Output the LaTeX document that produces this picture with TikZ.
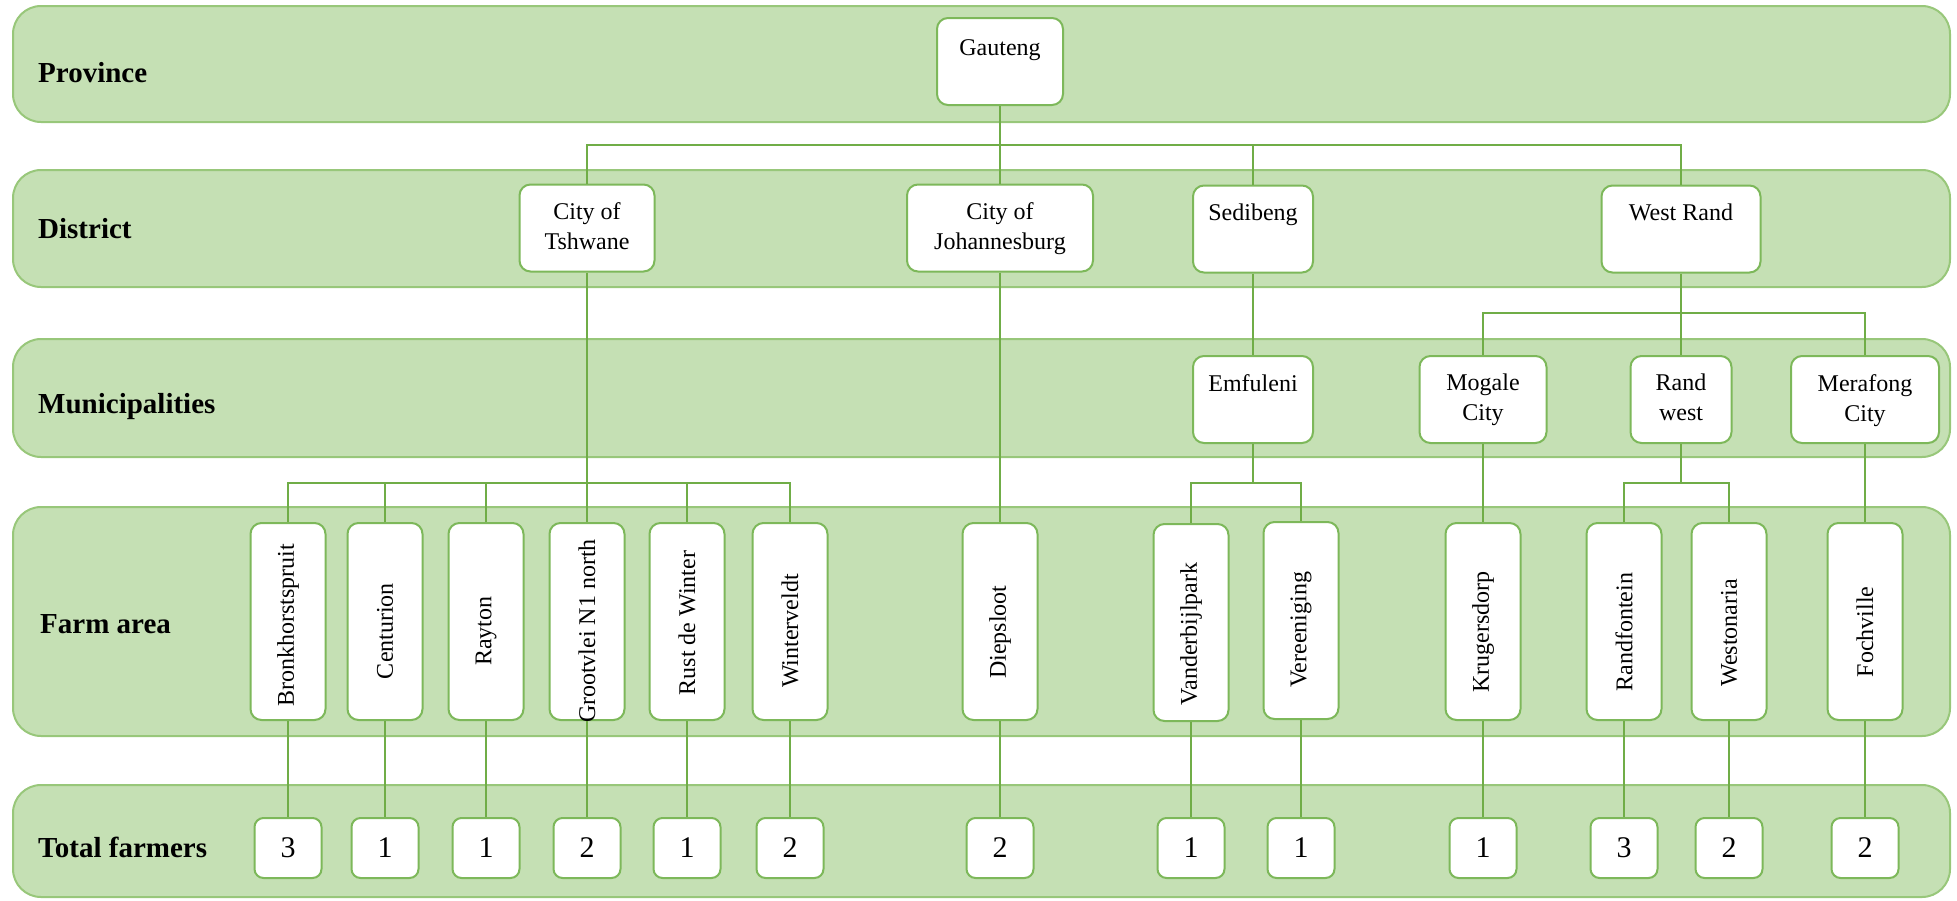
\documentclass[tikz,border=0pt]{standalone}
\usepackage{fontspec}
\setmainfont{Liberation Serif}
\definecolor{bandfill}{HTML}{C5E0B4}
\definecolor{bandborder}{HTML}{98C77A}
\definecolor{boxborder}{HTML}{7DB85A}
\definecolor{linegreen}{HTML}{70AD47}
\tikzset{
  band/.style={draw=bandborder, fill=bandfill, line width=2pt, rounded corners=28pt},
  box/.style={draw=boxborder, fill=white, line width=2pt, rounded corners=11pt, inner sep=0pt},
  topbox/.style={box, minimum height=87pt},
  farmbox/.style={box, minimum width=75pt, minimum height=197pt},
  numbox/.style={box, minimum width=67pt, minimum height=60pt, rounded corners=9pt, font=\fontsize{30}{32}\selectfont},
  lbl/.style={anchor=north, yshift=-19pt, align=center, inner sep=0pt, font=\fontsize{24}{30}\selectfont},
  farmtxt/.style={rotate=90, inner sep=0pt, font=\fontsize{24}{28}\selectfont},
  rowlbl/.style={anchor=base west, inner sep=0pt, font=\fontsize{29}{32}\selectfont\bfseries},
  conn/.style={draw=linegreen, line width=2.8pt}
}
\begin{document}
\begin{tikzpicture}[x=1pt, y=-1pt]
\useasboundingbox (0,0) rectangle (1957,900);
% bands
\draw[band] (13,6) rectangle (1950,122);
\draw[band] (13,170) rectangle (1950,287);
\draw[band] (13,339) rectangle (1950,457);
\draw[band] (13,507) rectangle (1950,736);
\draw[band] (13,785) rectangle (1950,897);
% row labels
\node[rowlbl] (lprov) at (38,82) {Province};
\node[rowlbl] (ldist) at (38,238) {District};
\node[rowlbl] (lmun) at (38,413) {Municipalities};
\node[rowlbl] (lfarm) at (40,633) {Farm area};
\node[rowlbl] (ltot) at (38,857) {Total farmers};
% branch levels
\coordinate (b0) at (0,145);
\coordinate (b2) at (0,313);
\coordinate (b1) at (0,483);
% province
\node[topbox, minimum width=126pt, label={[lbl, yshift=-3pt]north:Gauteng}] (gau) at (1000,61.5) {};
% districts
\node[topbox, minimum width=135pt, label={[lbl]north:City of\\Tshwane}] (tsh) at (587,228) {};
\node[topbox, minimum width=186pt, label={[lbl]north:City of\\Johannesburg}] (joh) at (1000,228) {};
\node[topbox, minimum width=120pt, label={[lbl]north:Sedibeng}] (sed) at (1253,229) {};
\node[topbox, minimum width=159pt, label={[lbl]north:West Rand}] (wr) at (1681,229) {};
% municipalities
\node[topbox, minimum width=120pt, label={[lbl]north:Emfuleni}] (emf) at (1253,399.5) {};
\node[topbox, minimum width=127pt, label={[lbl]north:Mogale\\City}] (mog) at (1483,399.5) {};
\node[topbox, minimum width=101pt, label={[lbl]north:Rand\\west}] (rw) at (1681,399.5) {};
\node[topbox, minimum width=148pt, label={[lbl]north:Merafong\\City}] (mer) at (1865,399.5) {};
% farm areas
\node[farmbox] (bro) at (288,621.5) {};
\node[farmbox] (cen) at (385,621.5) {};
\node[farmbox] (ray) at (486,621.5) {};
\node[farmbox] (gro) at (587,621.5) {};
\node[farmbox] (rus) at (687,621.5) {};
\node[farmbox] (win) at (790,621.5) {};
\node[farmbox] (die) at (1000,621.5) {};
\node[farmbox] (van) at (1191,622.5) {};
\node[farmbox] (vere) at (1301,620.5) {};
\node[farmbox] (kru) at (1483,621.5) {};
\node[farmbox] (ran) at (1624,621.5) {};
\node[farmbox] (wes) at (1729,621.5) {};
\node[farmbox] (foc) at (1865,621.5) {};
\node[farmtxt] (bro-t) at (288,625) {Bronkhorstspruit};
\node[farmtxt] (cen-t) at (385,631) {Centurion};
\node[farmtxt] (ray-t) at (486,631) {Rayton};
\node[farmtxt] (gro-t) at (587,631) {Grootvlei N1 north};
\node[farmtxt] (rus-t) at (687,623) {Rust de Winter};
\node[farmtxt] (win-t) at (790,631) {Winterveldt};
\node[farmtxt] (die-t) at (1000,632) {Diepsloot};
\node[farmtxt] (van-t) at (1191,634) {Vanderbijlpark};
\node[farmtxt] (vere-t) at (1301,630) {Vereeniging};
\node[farmtxt] (kru-t) at (1483,632) {Krugersdorp};
\node[farmtxt] (ran-t) at (1624,632) {Randfontein};
\node[farmtxt] (wes-t) at (1729,633) {Westonaria};
\node[farmtxt] (foc-t) at (1865,632) {Fochville};
% totals
\node[numbox] (nbro) at (288,848) {3};
\node[numbox] (ncen) at (385,848) {1};
\node[numbox] (nray) at (486,848) {1};
\node[numbox] (ngro) at (587,848) {2};
\node[numbox] (nrus) at (687,848) {1};
\node[numbox] (nwin) at (790,848) {2};
\node[numbox] (ndie) at (1000,848) {2};
\node[numbox] (nvan) at (1191,848) {1};
\node[numbox] (nvere) at (1301,848) {1};
\node[numbox] (nkru) at (1483,848) {1};
\node[numbox] (nran) at (1624,848) {3};
\node[numbox] (nwes) at (1729,848) {2};
\node[numbox] (nfoc) at (1865,848) {2};
% connectors: province -> districts
\draw[conn] (gau.south) -- (joh.north);
\draw[conn] (tsh.north) -- (tsh.north |- b0) -- (wr.north |- b0) -- (wr.north);
\draw[conn] (sed.north) -- (sed.north |- b0);
% districts -> municipalities / farms
\draw[conn] (tsh.south) -- (gro.north);
\draw[conn] (joh.south) -- (die.north);
\draw[conn] (sed.south) -- (emf.north);
\draw[conn] (wr.south) -- (rw.north);
\draw[conn] (mog.north) -- (mog.north |- b2) -- (mer.north |- b2) -- (mer.north);
% Tshwane branch
\draw[conn] (bro.north) -- (bro.north |- b1) -- (win.north |- b1) -- (win.north);
\draw[conn] (cen.north) -- (cen.north |- b1);
\draw[conn] (ray.north) -- (ray.north |- b1);
\draw[conn] (rus.north) -- (rus.north |- b1);
% municipalities -> farms
\draw[conn] (emf.south) -- (emf.south |- b1);
\draw[conn] (van.north) -- (van.north |- b1) -- (vere.north |- b1) -- (vere.north);
\draw[conn] (mog.south) -- (kru.north);
\draw[conn] (rw.south) -- (rw.south |- b1);
\draw[conn] (ran.north) -- (ran.north |- b1) -- (wes.north |- b1) -- (wes.north);
\draw[conn] (mer.south) -- (foc.north);
% farms -> totals
\foreach \f in {bro,cen,ray,gro,rus,win,die,van,vere,kru,ran,wes,foc}
  \draw[conn] (\f.south) -- (n\f.north);
\end{tikzpicture}
\end{document}
